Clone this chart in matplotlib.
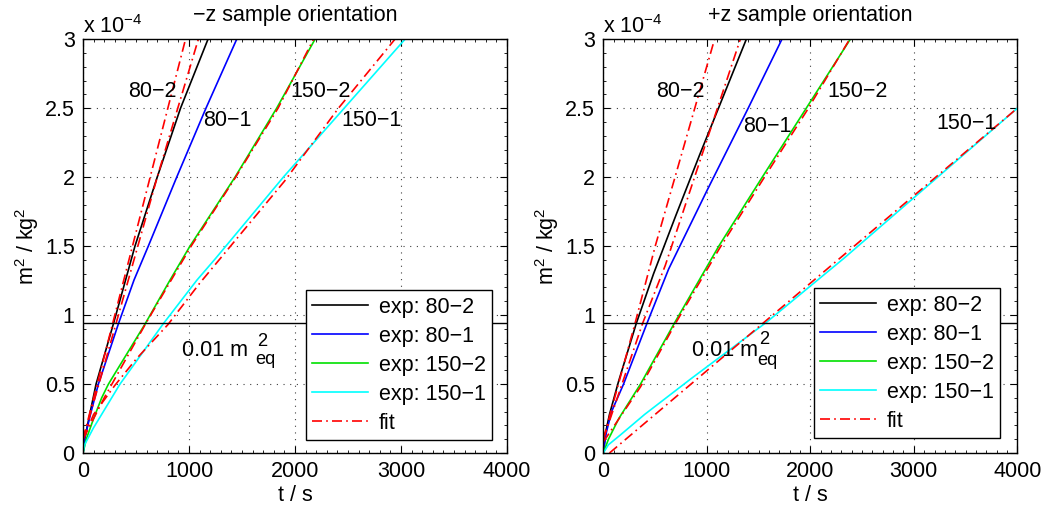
import numpy as np
import matplotlib
matplotlib.use("Agg")
import matplotlib.pyplot as plt
from matplotlib.ticker import MultipleLocator, FormatStrFormatter

plt.rcParams['font.family'] = ['Liberation Sans', 'DejaVu Sans']
plt.rcParams['mathtext.fontset'] = 'custom'
plt.rcParams['mathtext.rm'] = 'Liberation Sans'
plt.rcParams['mathtext.it'] = 'Liberation Sans'
plt.rcParams['mathtext.default'] = 'regular'

# ---- data, y in units of 1e-4 m^2/kg^2, t in s ----
# -z orientation (left)
t_802_L = [0, 15, 66, 123, 286, 400, 490, 700, 920, 1179]
y_802_L = [0, 0.10, 0.29, 0.50, 0.935, 1.25, 1.50, 2.00, 2.50, 3.00]
t_801_L = [0, 20, 70, 145, 333, 481, 616, 884, 1160, 1450]
y_801_L = [0, 0.12, 0.28, 0.50, 0.935, 1.254, 1.50, 2.00, 2.50, 3.00]
t_1502_L = [0, 30, 100, 176, 240, 585, 821, 1009, 1434, 1827, 2189]
y_1502_L = [0, 0.10, 0.25, 0.40, 0.50, 0.935, 1.254, 1.50, 2.00, 2.50, 3.00]
t_1501_L = [0, 15, 97, 349, 755, 1075, 1250, 1890, 2464, 3038]
y_1501_L = [0, 0.06, 0.18, 0.50, 0.935, 1.254, 1.41, 2.00, 2.50, 3.00]

fit_t_802_L = [0, 300, 600, 967]
fit_y_802_L = [0.10, 1.00, 1.90, 3.00]
fit_t_801_L = [0, 150, 400, 700, 1088]
fit_y_801_L = [0.10, 0.50, 1.18, 2.00, 3.00]
fit_t_1502_L = [0, 200, 600, 1020, 1440, 1840, 2175]
fit_y_1502_L = [0.10, 0.40, 0.95, 1.50, 2.00, 2.50, 3.00]
fit_t_1501_L = [0, 100, 300, 500, 800, 1100, 1900, 2410, 2943]
fit_y_1501_L = [0.10, 0.28, 0.49, 0.68, 0.93, 1.23, 1.97, 2.50, 3.00]

# +z orientation (right)
t_802_R = [0, 20, 60, 148, 319, 486, 700, 930, 1382]
y_802_R = [0, 0.14, 0.28, 0.52, 0.94, 1.30, 1.72, 2.16, 3.00]
t_801_R = [0, 30, 80, 196, 422, 631, 1000, 1400, 1726]
y_801_R = [0, 0.15, 0.30, 0.50, 0.94, 1.333, 1.90, 2.50, 3.00]
t_1502_R = [0, 50, 150, 360, 686, 1116, 1536, 1961, 2386]
y_1502_R = [0, 0.10, 0.25, 0.50, 0.94, 1.50, 2.00, 2.50, 3.00]
t_1501_R = [0, 50, 164, 400, 850, 1580, 2322, 3230, 4000]
y_1501_R = [0, 0.06, 0.13, 0.28, 0.54, 0.95, 1.41, 2.00, 2.50]

fit_t_802_R = [0, 300, 502, 1075]
fit_y_802_R = [0.10, 0.92, 1.50, 3.00]
fit_t_801_R = [0, 380, 599, 1324]
fit_y_801_R = [0.10, 0.94, 1.36, 3.00]
fit_t_1502_R = [0, 360, 690, 1120, 1540, 1965, 2380]
fit_y_1502_R = [0.08, 0.48, 0.93, 1.48, 1.98, 2.48, 3.00]
fit_t_1501_R = [60, 4000]
fit_y_1501_R = [0, 2.50]

m_eq_level = 0.94  # 0.01 m_eq^2

legend_labels = ['exp: 80\u22122', 'exp: 80\u22121', 'exp: 150\u22122', 'exp: 150\u22121', 'fit']
colors = ['k', '#0000ff', '#00e000', '#00ffff']

left_labels = [('80\u22122', 651, 2.62), ('80\u22121', 1358, 2.41),
               ('150\u22122', 2245, 2.62), ('150\u22121', 2726, 2.41)]
right_labels = [('80\u22122', 744, 2.62), ('80\u22121', 1585, 2.37),
                ('150\u22122', 2454, 2.62), ('150\u22121', 3507, 2.39)]

# "0.01 m" position, then "2" and "eq" positions (data coords)
meq_left = [(934, 0.74), (1693, 0.81), (1725, 0.68)]
meq_right = [(860, 0.746), (1556, 0.826), (1589, 0.674)]

FS = 15.5

fig = plt.figure(figsize=(10.51, 5.09), dpi=100)
axL = fig.add_axes([0.079, 0.110, 0.4034, 0.813])
axR = fig.add_axes([0.574, 0.110, 0.394, 0.813])


def draw(ax, exps, fits, labels, title, meq, leg_anchor):
    handles = []
    for (t, y), c in zip(exps, colors):
        h, = ax.plot(t, y, color=c, lw=1.2)
        handles.append(h)
    for t, y in fits:
        hf, = ax.plot(t, y, color='r', lw=1.2, linestyle=(0, (6, 2.5, 1, 2.5)))
    handles.append(hf)
    ax.axhline(m_eq_level, color='k', lw=1.0)
    for txt, x, y in labels:
        ax.text(x, y, txt, fontsize=FS, ha='center', va='center')
    ax.text(meq[0][0], meq[0][1], '0.01 m', fontsize=FS, ha='left', va='center')
    ax.text(meq[1][0], meq[1][1], '2', fontsize=FS * 0.85, ha='center', va='center')
    ax.text(meq[2][0], meq[2][1], 'eq', fontsize=FS * 0.85, ha='center', va='center')
    ax.set_xlim(0, 4000)
    ax.set_ylim(0, 3)
    ax.xaxis.set_major_locator(MultipleLocator(1000))
    ax.xaxis.set_minor_locator(MultipleLocator(100))
    ax.yaxis.set_major_locator(MultipleLocator(0.5))
    ax.yaxis.set_minor_locator(MultipleLocator(0.1))
    ax.yaxis.set_major_formatter(FormatStrFormatter('%g'))
    ax.tick_params(which='both', direction='in', top=True, right=True, labelsize=FS)
    ax.tick_params(which='major', length=5, pad=6)
    ax.tick_params(which='minor', length=2.5)
    ax.grid(True, which='major', color='0.25', linestyle=(0, (1, 5)), lw=0.8)
    for s in ax.spines.values():
        s.set_linewidth(1.0)
    ax.set_xlabel('t / s', fontsize=FS, labelpad=2)
    ax.set_ylabel(r'm$^2$ / kg$^2$', fontsize=FS, labelpad=3)
    ax.set_title(title, fontsize=FS, pad=13)
    ax.text(0, 1.014, r'x 10$^{-4}$', transform=ax.transAxes, fontsize=FS,
            ha='left', va='baseline')
    leg = ax.legend(handles, legend_labels, loc='lower right', bbox_to_anchor=leg_anchor,
                    borderaxespad=0, fontsize=FS, fancybox=False, framealpha=1,
                    edgecolor='k', handlelength=2.6, labelspacing=0.37,
                    handletextpad=0.5, borderpad=0.3)
    leg.get_frame().set_linewidth(1.0)


draw(axL,
     [(t_802_L, y_802_L), (t_801_L, y_801_L), (t_1502_L, y_1502_L), (t_1501_L, y_1501_L)],
     [(fit_t_802_L, fit_y_802_L), (fit_t_801_L, fit_y_801_L),
      (fit_t_1502_L, fit_y_1502_L), (fit_t_1501_L, fit_y_1501_L)],
     left_labels, '\u2212z sample orientation', meq_left, (0.965, 0.031))
draw(axR,
     [(t_802_R, y_802_R), (t_801_R, y_801_R), (t_1502_R, y_1502_R), (t_1501_R, y_1501_R)],
     [(fit_t_802_R, fit_y_802_R), (fit_t_801_R, fit_y_801_R),
      (fit_t_1502_R, fit_y_1502_R), (fit_t_1501_R, fit_y_1501_R)],
     right_labels, '+z sample orientation', meq_right, (0.959, 0.036))

fig.savefig('out.png', dpi=100)
